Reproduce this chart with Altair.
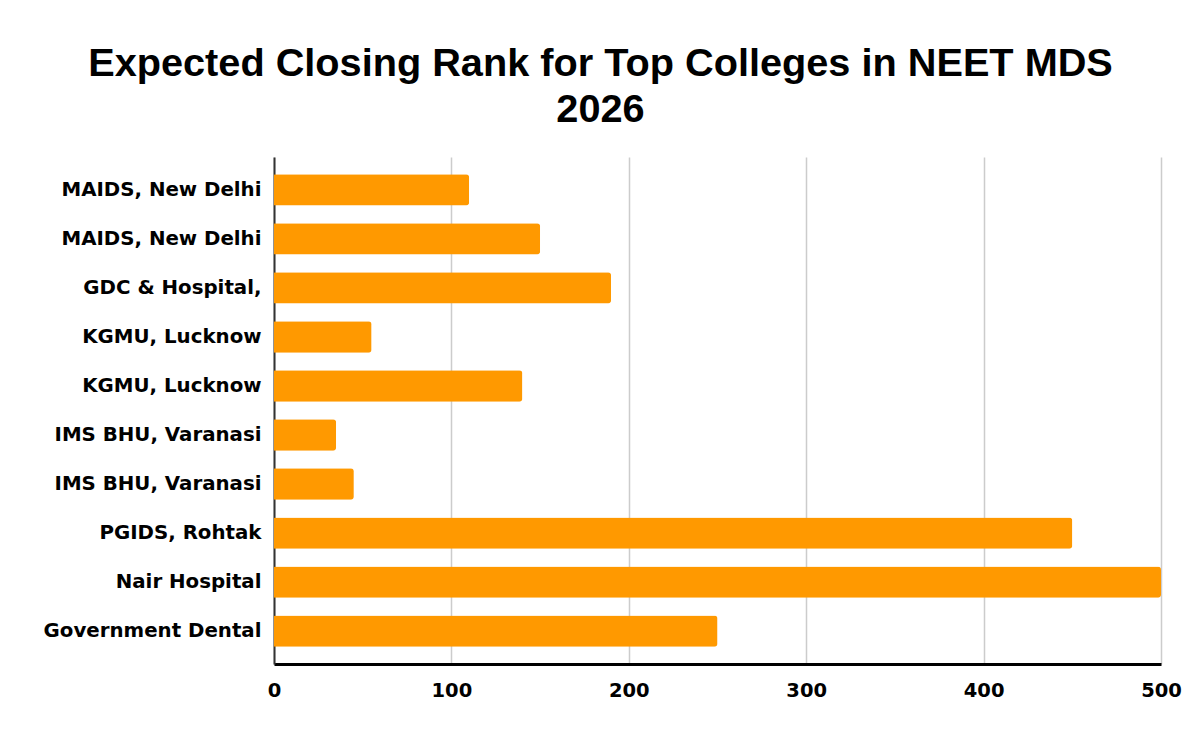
import altair as alt
import pandas as pd

colleges = [
    "MAIDS, New Delhi",
    "MAIDS, New Delhi",
    "GDC & Hospital,",
    "KGMU, Lucknow",
    "KGMU, Lucknow",
    "IMS BHU, Varanasi",
    "IMS BHU, Varanasi",
    "PGIDS, Rohtak",
    "Nair Hospital",
    "Government Dental",
]
ranks = [110, 150, 190, 55, 140, 35, 45, 450, 500, 250]
tick_values = [0, 100, 200, 300, 400, 500]

df = pd.DataFrame({
    "key": [f"{i:02d}|{c}" for i, c in enumerate(colleges)],
    "rank": ranks,
})

label_font = "DejaVu Sans"

chart = alt.Chart(df).mark_bar(color="#FF9900", cornerRadiusEnd=3).encode(
    y=alt.Y(
        "key:N",
        sort=None,
        scale=alt.Scale(paddingInner=0.36, paddingOuter=0.35),
        axis=alt.Axis(
            title=None,
            labelExpr="split(datum.label, '|')[1]",
            labelFont=label_font,
            labelFontSize=19.8,
            labelFontWeight="bold",
            labelColor="#000000",
            labelPadding=13,
            labelLimit=400,
            ticks=False,
            domainColor="#333333",
            domainWidth=2,
            grid=False,
        ),
    ),
    x=alt.X(
        "rank:Q",
        scale=alt.Scale(domain=[0, 500], nice=False),
        axis=alt.Axis(
            title=None,
            values=tick_values,
            labelFont=label_font,
            labelFontSize=19.5,
            labelFontWeight="bold",
            labelColor="#000000",
            labelPadding=17,
            labelFlush=False,
            ticks=False,
            domainColor="#000000",
            domainWidth=3,
            grid=True,
            gridColor="#cccccc",
            gridWidth=1.5,
        ),
    ),
).properties(
    width=887,
    height=507,
    title=alt.TitleParams(
        text=["Expected Closing Rank for Top Colleges in NEET MDS", "2026"],
        font="Liberation Sans",
        fontSize=39.7,
        fontWeight="bold",
        color="#000000",
        lineHeight=46,
        anchor="middle",
        dx=-117,
        offset=26,
    ),
    autosize=alt.AutoSizeParams(type="none"),
    padding={"left": 266, "top": 149, "right": 25, "bottom": 60},
).configure_view(stroke=None)

chart.save("out.html", embed_options={"renderer": "svg", "actions": False})
